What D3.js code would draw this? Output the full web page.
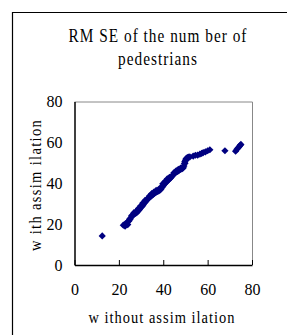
<!DOCTYPE html>
<html>
<head>
<meta charset="utf-8">
<script src="https://cdn.jsdelivr.net/npm/d3@7"></script>
<style>
  html, body { margin: 0; padding: 0; background: #fff; }
  svg { display: block; }
  text { font-family: "Liberation Serif", "DejaVu Serif", serif; fill: #000; }
</style>
</head>
<body>
<div id="chart"></div>
<script>
// values
const titleLines = ["RM SE of the num ber of", "pedestrians"];
const xLabel = "w ithout assim ilation";
const yLabel = "w ith assim ilation";
const xTicks = [0, 20, 40, 60, 80];
const yTicks = [0, 20, 40, 60, 80];

const withoutAssim = [12.5, 22, 22.8, 23.5, 24, 24.5, 25, 25.5, 26, 26.5, 27, 27.5, 28, 28.5, 29, 29.5,
  30, 30.5, 31, 31.5, 32, 32.5, 33, 33.5, 34, 34.5, 35, 35.5, 36, 36.5, 37, 37.5, 38, 38.5, 39, 39.5,
  40, 40.5, 41, 41.5, 42, 42.5, 43, 43.5, 44, 44.5, 45, 45.5, 46, 46.5, 47, 47.5, 48, 48.5, 49, 49.3,
  49.5, 49.7, 50, 50.3, 50.8, 51.3, 52, 53.5, 54.5, 55.5, 56.5, 57.3, 58, 59, 60, 61,
  67.8, 72.6, 73.2, 73.8, 74.3, 74.7, 75,
  // second pass, the band is a few points thick
  23, 24.8, 25.8, 26.8, 27.8, 28.8, 29.8, 30.8, 31.8, 32.8, 33.8, 34.8, 35.8, 36.8, 37.8, 38.8,
  39.8, 40.8, 41.8, 42.8, 43.8, 44.8, 45.8, 46.8, 47.8, 48.8, 49.8, 50.5];
const withAssim = [14.2, 19.5, 19, 20.5, 19.8, 21.5, 22.3, 23.2, 24, 24.8, 25, 25.2, 25.6, 26.2, 26.8, 27.5,
  28.2, 28.8, 29.5, 30.3, 31, 31.6, 32.2, 32.8, 33.3, 33.7, 34.2, 34.6, 35, 35.4, 35.8, 36, 36.3, 36.6, 37.2, 38,
  38.8, 39.5, 40.2, 40.7, 41.2, 41.8, 42.3, 42.8, 43.5, 44.2, 44.8, 45.2, 45.5, 45.8, 46.2, 46.6, 46.9, 47.2, 47.6, 48.4,
  49.5, 50.5, 51.3, 52, 52.5, 52.8, 52.9, 53.3, 53.7, 53.8, 54.2, 54.6, 55, 55.4, 55.9, 56.4,
  55.9, 55.7, 56.6, 57.4, 58, 58.6, 59,
  20.3, 22.4, 24.2, 25.6, 26.3, 27.6, 28.9, 30.3, 31.6, 32.4, 33.8, 34.9, 35.7, 36.5, 36.8, 37.9,
  39.7, 40.9, 42.1, 42.9, 43.4, 45.1, 46.1, 46.8, 47.4, 47.4, 49.8, 51.5];

const width = 290, height = 335;
const plot = { left: 74.5, right: 252, top: 101.5, bottom: 265 };

const svg = d3.select("#chart").append("svg")
  .attr("width", width)
  .attr("height", height);

// outer frame (only left and top show in the crop)
svg.append("path")
  .attr("d", "M12.5," + height + "V12.5H287")
  .attr("fill", "none")
  .attr("stroke", "#000")
  .attr("stroke-width", 1.2);

// the original font is tall and narrow: squeeze it a bit and space it out
function narrowText(cx, cy, rot, size, spacing, str) {
  svg.append("g")
    .attr("transform", "translate(" + cx + "," + cy + ") rotate(" + rot + ") scale(0.85,1)")
    .append("text")
    .attr("text-anchor", "middle")
    .attr("font-size", size + "px")
    .attr("letter-spacing", spacing + "px")
    .text(str);
}

// title
titleLines.forEach((t, i) => narrowText(158, 42 + i * 23, 0, 18, 1.2, t));

let x = d3.scaleLinear().domain([0, 80]).range([plot.left, plot.right]);
let y = d3.scaleLinear().domain([0, 80]).range([plot.bottom, plot.top]);

// top and right edges of the plot area, gray
svg.append("path")
  .attr("d", "M" + plot.left + "," + (plot.top + 0.5) + "H" + (plot.right + 0.5) + "V" + plot.bottom)
  .attr("fill", "none")
  .attr("stroke", "#888")
  .attr("stroke-width", 1);

// x axis, ticks pointing inward
let xAxis = svg.append("g")
  .attr("transform", "translate(0," + plot.bottom + ")")
  .call(d3.axisBottom(x).tickValues(xTicks).tickSizeInner(-5).tickSizeOuter(0).tickPadding(19));
xAxis.select(".domain").attr("stroke", "#000").attr("stroke-width", 1.5);
xAxis.selectAll(".tick line").attr("stroke", "#000");
xAxis.selectAll("text")
  .attr("font-family", "Liberation Serif")
  .attr("font-size", "16px");

// y axis, no tick marks
let yAxis = svg.append("g")
  .attr("transform", "translate(" + plot.left + ",0)")
  .call(d3.axisLeft(y).tickValues(yTicks).tickSize(0).tickPadding(12));
yAxis.select(".domain").attr("stroke", "#000").attr("stroke-width", 1.5);
yAxis.selectAll("text")
  .attr("font-family", "Liberation Serif")
  .attr("font-size", "16px");

// axis titles
narrowText(162, 323, 0, 17, 1.2, xLabel);
narrowText(41, 185, -90, 17, 1.6, yLabel);

// points: navy diamonds
let points = withoutAssim.map((v, i) => ({ x: v, y: withAssim[i] }));
let diamond = d3.symbol().type(d3.symbolSquare).size(26);

svg.append("g")
  .selectAll("path")
  .data(points)
  .enter().append("path")
  .attr("d", diamond)
  .attr("transform", d => "translate(" + x(d.x) + "," + y(d.y) + ") rotate(45)")
  .attr("fill", "#000080");
</script>
</body>
</html>
